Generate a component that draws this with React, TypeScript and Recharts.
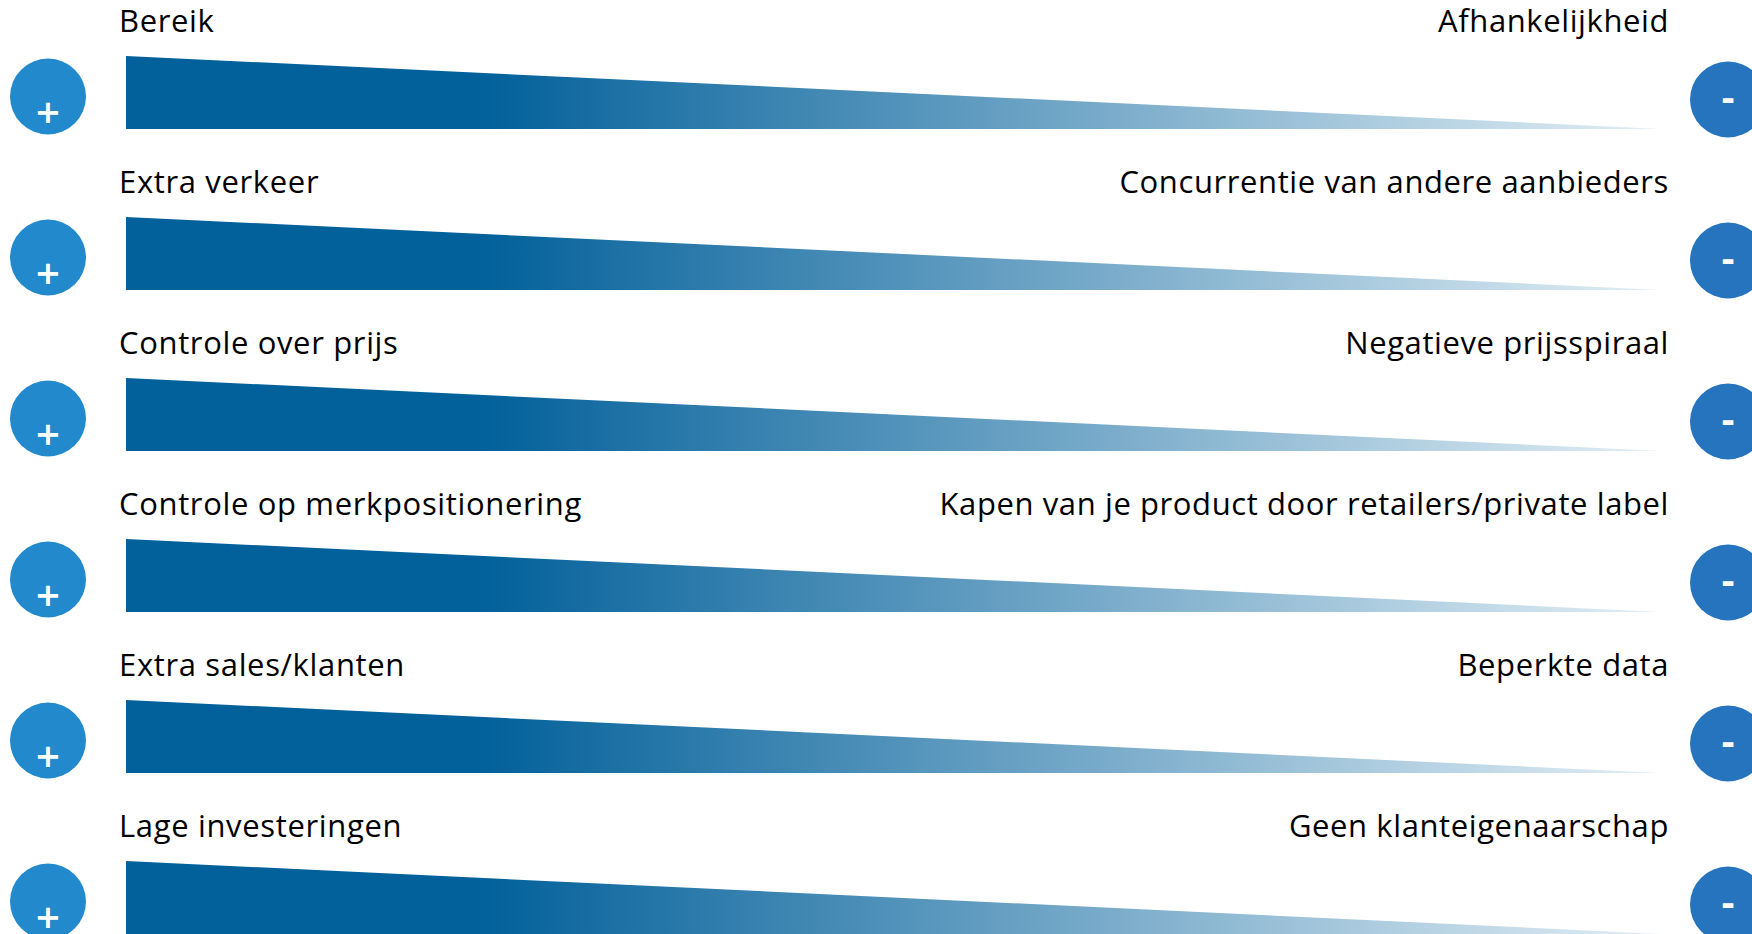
import React from 'react';
import { BarChart, Bar, XAxis, YAxis, LabelList } from 'recharts';

// voordelen links, nadelen rechts
const voordelen = [
  'Bereik',
  'Extra verkeer',
  'Controle over prijs',
  'Controle op merkpositionering',
  'Extra sales/klanten',
  'Lage investeringen',
];
const nadelen = [
  'Afhankelijkheid',
  'Concurrentie van andere aanbieders',
  'Negatieve prijsspiraal',
  'Kapen van je product door retailers/private label',
  'Beperkte data',
  'Geen klanteigenaarschap',
];
const sterkte = [100, 100, 100, 100, 100, 100];

const data = voordelen.map((pro, i) => ({ pro, con: nadelen[i], value: sterkte[i] }));

const FONT = '"Open Sans", "Noto Sans", sans-serif';

const Wedge = (props: any) => {
  const { x, y, width, height } = props;
  const mid = y + height / 2;
  const plusX = x - 78;
  const minX = x + width + 68;
  return (
    <g>
      <polygon
        points={`${x},${y} ${x + width},${y + height} ${x},${y + height}`}
        fill="url(#wedgeFill)"
      />
      <circle cx={plusX} cy={mid + 4} r={38} fill="#2189cc" />
      <text
        x={plusX}
        y={mid + 19}
        textAnchor="middle"
        dominantBaseline="central"
        fill="#fff"
        fontFamily='"DejaVu Sans", sans-serif'
        fontWeight="bold"
        fontSize={32}
      >
        +
      </text>
      <circle cx={minX} cy={mid + 7} r={38} fill="#2674be" />
      <text
        x={minX}
        y={mid + 5}
        textAnchor="middle"
        dominantBaseline="central"
        fill="#fff"
        fontFamily='"DejaVu Sans", sans-serif'
        fontWeight="bold"
        fontSize={34}
      >
        -
      </text>
    </g>
  );
};

const proLabel = (p: any) => (
  <text x={p.x - 7} y={p.y - 24} fill="#000" fontFamily={FONT} fontSize={31} letterSpacing={0.65}>
    {p.value}
  </text>
);

const conLabel = (p: any) => (
  <text
    x={p.x + p.width + 9}
    y={p.y - 24}
    textAnchor="end"
    fill="#000"
    fontFamily={FONT}
    fontSize={31}
    letterSpacing={0.6}
  >
    {p.value}
  </text>
);

export default function App() {
  return (
    <div
      style={{
        position: 'absolute',
        left: 0,
        top: 0,
        width: 1752,
        height: 934,
        overflow: 'hidden',
        background: '#fff',
      }}
    >
      <BarChart
        layout="vertical"
        width={1752}
        height={978}
        data={data}
        margin={{ top: 12, right: 92, bottom: 0, left: 126 }}
      >
        <defs>
          <linearGradient id="wedgeFill" x1="0" y1="0" x2="1" y2="0">
            <stop offset="0" stopColor="#02609a" />
            <stop offset="0.23" stopColor="#02609a" />
            <stop offset="1" stopColor="#e2eef5" />
          </linearGradient>
        </defs>
        <XAxis type="number" domain={[0, 100]} hide />
        <YAxis type="category" dataKey="pro" hide />
        <Bar dataKey="value" barSize={73} shape={Wedge} isAnimationActive={false}>
          <LabelList dataKey="pro" content={proLabel} />
          <LabelList dataKey="con" content={conLabel} />
        </Bar>
      </BarChart>
    </div>
  );
}
